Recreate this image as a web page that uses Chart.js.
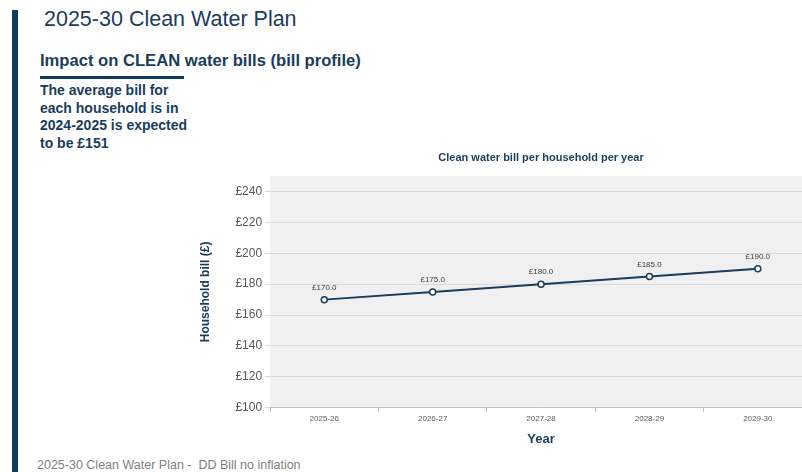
<!DOCTYPE html>
<html>
<head>
<meta charset="utf-8">
<script src="https://cdn.jsdelivr.net/npm/chart.js@4/dist/chart.umd.min.js"></script>
<style>
  html, body { margin: 0; padding: 0; width: 802px; height: 472px; overflow: hidden; background: #fff; font-family: "Liberation Sans", Arial, sans-serif; }
  .bar { position: absolute; left: 12px; top: 10px; width: 6px; height: 470px; background: #0f3b5c; }
  .title { position: absolute; left: 44px; top: 7px; font-size: 21.5px; line-height: 24px; color: #1a3d5c; white-space: nowrap; }
  .sub { position: absolute; left: 40px; top: 51px; font-size: 16.6px; line-height: 19px; font-weight: bold; color: #1a3d5c; white-space: nowrap; }
  .rule { position: absolute; left: 40px; top: 76px; width: 144px; height: 3px; background: #0f3b5c; }
  .note { position: absolute; left: 40px; top: 82px; font-size: 14px; line-height: 17.7px; font-weight: bold; color: #1a3d5c; white-space: nowrap; }
  .foot { position: absolute; left: 37px; top: 458px; font-size: 12.5px; line-height: 14px; color: #7f7f7f; white-space: nowrap; }
  .chartBox { position: absolute; left: 190px; top: 140px; width: 702px; height: 311px; }
</style>
</head>
<body>
<div class="bar"></div>
<div class="title">2025-30 Clean Water Plan</div>
<div class="sub">Impact on CLEAN water bills (bill profile)</div>
<div class="rule"></div>
<div class="note">The average bill for<br>each household is in<br>2024-2025 is expected<br>to be £151</div>
<div class="foot">2025-30 Clean Water Plan -&nbsp; DD Bill no inflation</div>
<div class="chartBox"><canvas id="billChart"></canvas></div>

<script>
// chart data
const years = ['2025-26', '2026-27', '2027-28', '2028-29', '2029-30'];
const bills = [170, 175, 180, 185, 190];
const yTicks = [100, 120, 140, 160, 180, 200, 220, 240];
const chartTitle = 'Clean water bill per household per year';

const navy = '#1a3d5c';
const fontFamily = '"Liberation Sans", Arial, sans-serif';

// grey plot area behind the line, title centred over it
const plotBackground = {
    id: 'plotBackground',
    beforeDraw(chart) {
        const { ctx, chartArea } = chart;
        ctx.save();
        ctx.fillStyle = '#f0f0f0';
        ctx.fillRect(chartArea.left, chartArea.top, chartArea.right - chartArea.left, chartArea.bottom - chartArea.top);
        ctx.font = 'bold 11px ' + fontFamily;
        ctx.fillStyle = navy;
        ctx.textAlign = 'center';
        ctx.textBaseline = 'middle';
        ctx.fillText(chartTitle, (chartArea.left + chartArea.right) / 2, 18);
        ctx.restore();
    }
};

// "£170.0" style labels above each point
const pointLabels = {
    id: 'pointLabels',
    afterDatasetsDraw(chart) {
        const ctx = chart.ctx;
        const meta = chart.getDatasetMeta(0);
        ctx.save();
        ctx.font = '8px ' + fontFamily;
        ctx.fillStyle = '#404040';
        ctx.textAlign = 'center';
        ctx.textBaseline = 'middle';
        meta.data.forEach((pt, i) => {
            ctx.fillText('£' + bills[i].toFixed(1), pt.x, pt.y - 12);
        });
        ctx.restore();
    }
};

new Chart(document.getElementById('billChart'), {
    type: 'line',
    data: {
        labels: years,
        datasets: [{
            data: bills,
            borderColor: navy,
            borderWidth: 2,
            backgroundColor: '#ffffff',
            pointBackgroundColor: '#ffffff',
            pointBorderColor: navy,
            pointBorderWidth: 1.5,
            pointRadius: 3,
            tension: 0
        }]
    },
    options: {
        responsive: true,
        maintainAspectRatio: false,
        animation: false,
        layout: { padding: { left: 0, right: 80, top: 36, bottom: 0 } },
        plugins: {
            legend: { display: false },
            tooltip: { enabled: false },
            title: { display: false }
        },
        scales: {
            x: {
                offset: true,
                grid: { offset: true, drawOnChartArea: false, color: '#bfbfbf', tickLength: 4 },
                border: { color: '#bfbfbf' },
                ticks: { color: '#595959', padding: 2, font: { family: fontFamily, size: 8 } },
                title: {
                    display: true,
                    text: 'Year',
                    color: navy,
                    font: { family: fontFamily, size: 13, weight: 'bold' },
                    padding: { top: 6, bottom: 4 }
                }
            },
            y: {
                min: 100,
                max: 250,
                afterBuildTicks(scale) {
                    scale.ticks = yTicks.map(v => ({ value: v }));
                },
                grid: { color: '#d9d9d9', tickLength: 5 },
                border: { display: false },
                ticks: {
                    color: '#595959',
                    padding: 3,
                    font: { family: fontFamily, size: 12 },
                    callback: v => '£' + v
                },
                title: {
                    display: true,
                    text: 'Household bill (£)',
                    color: navy,
                    font: { family: fontFamily, size: 12, weight: 'bold' },
                    padding: { top: 8, bottom: 20 }
                }
            }
        }
    },
    plugins: [plotBackground, pointLabels]
});
</script>
</body>
</html>
